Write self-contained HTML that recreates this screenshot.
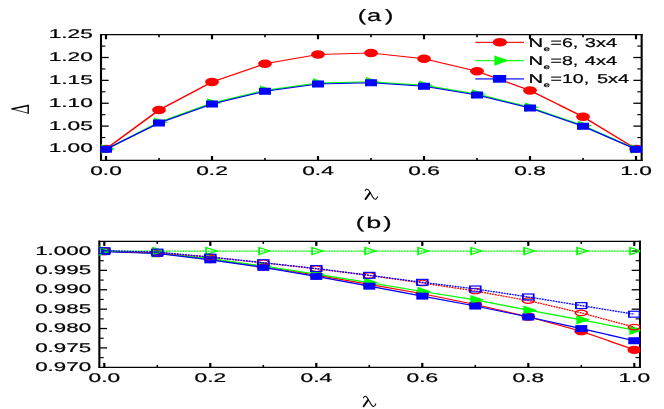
<!DOCTYPE html>
<html><head><meta charset="utf-8"><title>chart</title>
<style>html,body{margin:0;padding:0;background:#fff}svg{display:block;will-change:transform}text{text-rendering:geometricPrecision;font-family:"Liberation Sans", sans-serif;fill:#000;stroke:#000;stroke-width:0.22px}</style></head><body>
<svg width="664" height="409" viewBox="0 0 664 409">
<rect width="664" height="409" fill="#fff"/>
<g opacity="0.999">
<line x1="101.00" y1="34.00" x2="101.00" y2="161.00" stroke="#000" stroke-width="2.1" />
<line x1="100.00" y1="34.65" x2="642.65" y2="34.65" stroke="#000" stroke-width="1.3" />
<line x1="100.00" y1="160.40" x2="642.65" y2="160.40" stroke="#000" stroke-width="1.2" />
<line x1="106.00" y1="34.65" x2="106.00" y2="39.25" stroke="#000" stroke-width="2.2" />
<line x1="106.00" y1="160.40" x2="106.00" y2="156.00" stroke="#000" stroke-width="2.2" />
<line x1="159.00" y1="34.65" x2="159.00" y2="37.25" stroke="#000" stroke-width="1.6" />
<line x1="159.00" y1="160.40" x2="159.00" y2="158.00" stroke="#000" stroke-width="1.6" />
<line x1="212.00" y1="34.65" x2="212.00" y2="39.25" stroke="#000" stroke-width="2.2" />
<line x1="212.00" y1="160.40" x2="212.00" y2="156.00" stroke="#000" stroke-width="2.2" />
<line x1="265.00" y1="34.65" x2="265.00" y2="37.25" stroke="#000" stroke-width="1.6" />
<line x1="265.00" y1="160.40" x2="265.00" y2="158.00" stroke="#000" stroke-width="1.6" />
<line x1="318.00" y1="34.65" x2="318.00" y2="39.25" stroke="#000" stroke-width="2.2" />
<line x1="318.00" y1="160.40" x2="318.00" y2="156.00" stroke="#000" stroke-width="2.2" />
<line x1="371.00" y1="34.65" x2="371.00" y2="37.25" stroke="#000" stroke-width="1.6" />
<line x1="371.00" y1="160.40" x2="371.00" y2="158.00" stroke="#000" stroke-width="1.6" />
<line x1="424.00" y1="34.65" x2="424.00" y2="39.25" stroke="#000" stroke-width="2.2" />
<line x1="424.00" y1="160.40" x2="424.00" y2="156.00" stroke="#000" stroke-width="2.2" />
<line x1="477.00" y1="34.65" x2="477.00" y2="37.25" stroke="#000" stroke-width="1.6" />
<line x1="477.00" y1="160.40" x2="477.00" y2="158.00" stroke="#000" stroke-width="1.6" />
<line x1="530.00" y1="34.65" x2="530.00" y2="39.25" stroke="#000" stroke-width="2.2" />
<line x1="530.00" y1="160.40" x2="530.00" y2="156.00" stroke="#000" stroke-width="2.2" />
<line x1="583.00" y1="34.65" x2="583.00" y2="37.25" stroke="#000" stroke-width="1.6" />
<line x1="583.00" y1="160.40" x2="583.00" y2="158.00" stroke="#000" stroke-width="1.6" />
<line x1="636.00" y1="34.65" x2="636.00" y2="39.25" stroke="#000" stroke-width="2.2" />
<line x1="636.00" y1="160.40" x2="636.00" y2="156.00" stroke="#000" stroke-width="2.2" />
<line x1="101.00" y1="148.97" x2="108.70" y2="148.97" stroke="#000" stroke-width="1.3" />
<line x1="641.65" y1="148.97" x2="633.35" y2="148.97" stroke="#000" stroke-width="1.3" />
<line x1="101.00" y1="126.10" x2="108.70" y2="126.10" stroke="#000" stroke-width="1.3" />
<line x1="641.65" y1="126.10" x2="633.35" y2="126.10" stroke="#000" stroke-width="1.3" />
<line x1="101.00" y1="103.24" x2="108.70" y2="103.24" stroke="#000" stroke-width="1.3" />
<line x1="641.65" y1="103.24" x2="633.35" y2="103.24" stroke="#000" stroke-width="1.3" />
<line x1="101.00" y1="80.38" x2="108.70" y2="80.38" stroke="#000" stroke-width="1.3" />
<line x1="641.65" y1="80.38" x2="633.35" y2="80.38" stroke="#000" stroke-width="1.3" />
<line x1="101.00" y1="57.51" x2="108.70" y2="57.51" stroke="#000" stroke-width="1.3" />
<line x1="641.65" y1="57.51" x2="633.35" y2="57.51" stroke="#000" stroke-width="1.3" />
<line x1="101.00" y1="137.54" x2="105.40" y2="137.54" stroke="#000" stroke-width="1.15" />
<line x1="641.65" y1="137.54" x2="637.25" y2="137.54" stroke="#000" stroke-width="1.15" />
<line x1="101.00" y1="114.67" x2="105.40" y2="114.67" stroke="#000" stroke-width="1.15" />
<line x1="641.65" y1="114.67" x2="637.25" y2="114.67" stroke="#000" stroke-width="1.15" />
<line x1="101.00" y1="91.81" x2="105.40" y2="91.81" stroke="#000" stroke-width="1.15" />
<line x1="641.65" y1="91.81" x2="637.25" y2="91.81" stroke="#000" stroke-width="1.15" />
<line x1="101.00" y1="68.94" x2="105.40" y2="68.94" stroke="#000" stroke-width="1.15" />
<line x1="641.65" y1="68.94" x2="637.25" y2="68.94" stroke="#000" stroke-width="1.15" />
<line x1="101.00" y1="46.08" x2="105.40" y2="46.08" stroke="#000" stroke-width="1.15" />
<line x1="641.65" y1="46.08" x2="637.25" y2="46.08" stroke="#000" stroke-width="1.15" />
<line x1="641.65" y1="34.00" x2="641.65" y2="161.00" stroke="#000" stroke-width="2.1" />
<clipPath id="ca"><rect x="100.40" y="32.65" width="541.55" height="129.75"/></clipPath>
<g clip-path="url(#ca)"><g transform="scale(1.6,1)">
<polyline points="66.250,148.90 99.375,110.00 132.500,82.00 165.625,63.75 198.750,54.50 231.875,53.00 265.000,58.75 298.125,71.25 331.250,90.50 364.375,116.75 397.500,148.90" fill="none" stroke="#ff0000" stroke-width="1.2"/>
<ellipse cx="66.250" cy="148.90" rx="4.312" ry="4.15" fill="#ff0000"/>
<ellipse cx="99.375" cy="110.00" rx="4.312" ry="4.15" fill="#ff0000"/>
<ellipse cx="132.500" cy="82.00" rx="4.312" ry="4.15" fill="#ff0000"/>
<ellipse cx="165.625" cy="63.75" rx="4.312" ry="4.15" fill="#ff0000"/>
<ellipse cx="198.750" cy="54.50" rx="4.312" ry="4.15" fill="#ff0000"/>
<ellipse cx="231.875" cy="53.00" rx="4.312" ry="4.15" fill="#ff0000"/>
<ellipse cx="265.000" cy="58.75" rx="4.312" ry="4.15" fill="#ff0000"/>
<ellipse cx="298.125" cy="71.25" rx="4.312" ry="4.15" fill="#ff0000"/>
<ellipse cx="331.250" cy="90.50" rx="4.312" ry="4.15" fill="#ff0000"/>
<ellipse cx="364.375" cy="116.75" rx="4.312" ry="4.15" fill="#ff0000"/>
<ellipse cx="397.500" cy="148.90" rx="4.312" ry="4.15" fill="#ff0000"/>
<polyline points="66.250,149.10 99.375,122.30 132.500,103.10 165.625,90.30 198.750,83.00 231.875,81.80 265.000,85.30 298.125,94.10 331.250,107.20 364.375,125.60 397.500,149.10" fill="none" stroke="#00ff00" stroke-width="1.2"/>
<polygon points="63.125,144.35 71.937,149.10 63.125,153.85" fill="#00ff00"/>
<polygon points="96.250,117.55 105.062,122.30 96.250,127.05" fill="#00ff00"/>
<polygon points="129.375,98.35 138.188,103.10 129.375,107.85" fill="#00ff00"/>
<polygon points="162.500,85.55 171.312,90.30 162.500,95.05" fill="#00ff00"/>
<polygon points="195.625,78.25 204.438,83.00 195.625,87.75" fill="#00ff00"/>
<polygon points="228.750,77.05 237.562,81.80 228.750,86.55" fill="#00ff00"/>
<polygon points="261.875,80.55 270.688,85.30 261.875,90.05" fill="#00ff00"/>
<polygon points="295.000,89.35 303.812,94.10 295.000,98.85" fill="#00ff00"/>
<polygon points="328.125,102.45 336.938,107.20 328.125,111.95" fill="#00ff00"/>
<polygon points="361.250,120.85 370.062,125.60 361.250,130.35" fill="#00ff00"/>
<polygon points="394.375,144.35 403.188,149.10 394.375,153.85" fill="#00ff00"/>
<polyline points="66.250,149.20 99.375,123.00 132.500,104.00 165.625,91.25 198.750,84.00 231.875,82.75 265.000,86.25 298.125,95.00 331.250,108.00 364.375,126.25 397.500,149.20" fill="none" stroke="#0000ff" stroke-width="1.2"/>
<rect x="62.500" y="145.70" width="7.500" height="7" fill="#0000ff"/>
<rect x="95.625" y="119.50" width="7.500" height="7" fill="#0000ff"/>
<rect x="128.750" y="100.50" width="7.500" height="7" fill="#0000ff"/>
<rect x="161.875" y="87.75" width="7.500" height="7" fill="#0000ff"/>
<rect x="195.000" y="80.50" width="7.500" height="7" fill="#0000ff"/>
<rect x="228.125" y="79.25" width="7.500" height="7" fill="#0000ff"/>
<rect x="261.250" y="82.75" width="7.500" height="7" fill="#0000ff"/>
<rect x="294.375" y="91.50" width="7.500" height="7" fill="#0000ff"/>
<rect x="327.500" y="104.50" width="7.500" height="7" fill="#0000ff"/>
<rect x="360.625" y="122.75" width="7.500" height="7" fill="#0000ff"/>
<rect x="393.750" y="145.70" width="7.500" height="7" fill="#0000ff"/>
</g></g>
<text transform="translate(92.90,152.47) scale(1.79,1)" font-size="12.7" text-anchor="end" >1.00</text>
<text transform="translate(92.90,129.60) scale(1.79,1)" font-size="12.7" text-anchor="end" >1.05</text>
<text transform="translate(92.90,106.74) scale(1.79,1)" font-size="12.7" text-anchor="end" >1.10</text>
<text transform="translate(92.90,83.88) scale(1.79,1)" font-size="12.7" text-anchor="end" >1.15</text>
<text transform="translate(92.90,61.01) scale(1.79,1)" font-size="12.7" text-anchor="end" >1.20</text>
<text transform="translate(92.90,38.14) scale(1.79,1)" font-size="12.7" text-anchor="end" >1.25</text>
<text transform="translate(106.00,174.95) scale(1.79,1)" font-size="12.7" text-anchor="middle" >0.0</text>
<text transform="translate(212.00,174.95) scale(1.79,1)" font-size="12.7" text-anchor="middle" >0.2</text>
<text transform="translate(318.00,174.95) scale(1.79,1)" font-size="12.7" text-anchor="middle" >0.4</text>
<text transform="translate(424.00,174.95) scale(1.79,1)" font-size="12.7" text-anchor="middle" >0.6</text>
<text transform="translate(530.00,174.95) scale(1.79,1)" font-size="12.7" text-anchor="middle" >0.8</text>
<text transform="translate(636.00,174.95) scale(1.79,1)" font-size="12.7" text-anchor="middle" >1.0</text>
<line x1="99.35" y1="240.65" x2="99.35" y2="367.90" stroke="#000" stroke-width="2.1" />
<line x1="98.35" y1="241.30" x2="640.95" y2="241.30" stroke="#000" stroke-width="1.3" />
<line x1="98.35" y1="367.30" x2="640.95" y2="367.30" stroke="#000" stroke-width="1.2" />
<line x1="104.30" y1="241.30" x2="104.30" y2="245.90" stroke="#000" stroke-width="2.2" />
<line x1="104.30" y1="367.30" x2="104.30" y2="362.90" stroke="#000" stroke-width="2.2" />
<line x1="157.30" y1="241.30" x2="157.30" y2="243.90" stroke="#000" stroke-width="1.6" />
<line x1="157.30" y1="367.30" x2="157.30" y2="364.90" stroke="#000" stroke-width="1.6" />
<line x1="210.30" y1="241.30" x2="210.30" y2="245.90" stroke="#000" stroke-width="2.2" />
<line x1="210.30" y1="367.30" x2="210.30" y2="362.90" stroke="#000" stroke-width="2.2" />
<line x1="263.30" y1="241.30" x2="263.30" y2="243.90" stroke="#000" stroke-width="1.6" />
<line x1="263.30" y1="367.30" x2="263.30" y2="364.90" stroke="#000" stroke-width="1.6" />
<line x1="316.30" y1="241.30" x2="316.30" y2="245.90" stroke="#000" stroke-width="2.2" />
<line x1="316.30" y1="367.30" x2="316.30" y2="362.90" stroke="#000" stroke-width="2.2" />
<line x1="369.30" y1="241.30" x2="369.30" y2="243.90" stroke="#000" stroke-width="1.6" />
<line x1="369.30" y1="367.30" x2="369.30" y2="364.90" stroke="#000" stroke-width="1.6" />
<line x1="422.30" y1="241.30" x2="422.30" y2="245.90" stroke="#000" stroke-width="2.2" />
<line x1="422.30" y1="367.30" x2="422.30" y2="362.90" stroke="#000" stroke-width="2.2" />
<line x1="475.30" y1="241.30" x2="475.30" y2="243.90" stroke="#000" stroke-width="1.6" />
<line x1="475.30" y1="367.30" x2="475.30" y2="364.90" stroke="#000" stroke-width="1.6" />
<line x1="528.30" y1="241.30" x2="528.30" y2="245.90" stroke="#000" stroke-width="2.2" />
<line x1="528.30" y1="367.30" x2="528.30" y2="362.90" stroke="#000" stroke-width="2.2" />
<line x1="581.30" y1="241.30" x2="581.30" y2="243.90" stroke="#000" stroke-width="1.6" />
<line x1="581.30" y1="367.30" x2="581.30" y2="364.90" stroke="#000" stroke-width="1.6" />
<line x1="634.30" y1="241.30" x2="634.30" y2="245.90" stroke="#000" stroke-width="2.2" />
<line x1="634.30" y1="367.30" x2="634.30" y2="362.90" stroke="#000" stroke-width="2.2" />
<line x1="99.35" y1="347.93" x2="107.05" y2="347.93" stroke="#000" stroke-width="1.3" />
<line x1="639.95" y1="347.93" x2="631.65" y2="347.93" stroke="#000" stroke-width="1.3" />
<line x1="99.35" y1="328.54" x2="107.05" y2="328.54" stroke="#000" stroke-width="1.3" />
<line x1="639.95" y1="328.54" x2="631.65" y2="328.54" stroke="#000" stroke-width="1.3" />
<line x1="99.35" y1="309.16" x2="107.05" y2="309.16" stroke="#000" stroke-width="1.3" />
<line x1="639.95" y1="309.16" x2="631.65" y2="309.16" stroke="#000" stroke-width="1.3" />
<line x1="99.35" y1="289.77" x2="107.05" y2="289.77" stroke="#000" stroke-width="1.3" />
<line x1="639.95" y1="289.77" x2="631.65" y2="289.77" stroke="#000" stroke-width="1.3" />
<line x1="99.35" y1="270.38" x2="107.05" y2="270.38" stroke="#000" stroke-width="1.3" />
<line x1="639.95" y1="270.38" x2="631.65" y2="270.38" stroke="#000" stroke-width="1.3" />
<line x1="99.35" y1="251.00" x2="107.05" y2="251.00" stroke="#000" stroke-width="1.3" />
<line x1="639.95" y1="251.00" x2="631.65" y2="251.00" stroke="#000" stroke-width="1.3" />
<line x1="99.35" y1="357.62" x2="103.75" y2="357.62" stroke="#000" stroke-width="1.15" />
<line x1="639.95" y1="357.62" x2="635.55" y2="357.62" stroke="#000" stroke-width="1.15" />
<line x1="99.35" y1="338.23" x2="103.75" y2="338.23" stroke="#000" stroke-width="1.15" />
<line x1="639.95" y1="338.23" x2="635.55" y2="338.23" stroke="#000" stroke-width="1.15" />
<line x1="99.35" y1="318.85" x2="103.75" y2="318.85" stroke="#000" stroke-width="1.15" />
<line x1="639.95" y1="318.85" x2="635.55" y2="318.85" stroke="#000" stroke-width="1.15" />
<line x1="99.35" y1="299.46" x2="103.75" y2="299.46" stroke="#000" stroke-width="1.15" />
<line x1="639.95" y1="299.46" x2="635.55" y2="299.46" stroke="#000" stroke-width="1.15" />
<line x1="99.35" y1="280.08" x2="103.75" y2="280.08" stroke="#000" stroke-width="1.15" />
<line x1="639.95" y1="280.08" x2="635.55" y2="280.08" stroke="#000" stroke-width="1.15" />
<line x1="99.35" y1="260.69" x2="103.75" y2="260.69" stroke="#000" stroke-width="1.15" />
<line x1="639.95" y1="260.69" x2="635.55" y2="260.69" stroke="#000" stroke-width="1.15" />
<line x1="639.95" y1="240.65" x2="639.95" y2="367.90" stroke="#000" stroke-width="2.0" />
<clipPath id="cb"><rect x="98.75" y="239.30" width="541.50" height="130.00"/></clipPath>
<g clip-path="url(#cb)"><g transform="scale(1.6,1)">
<polyline points="65.188,251.20 98.312,253.20 131.438,259.00 164.562,266.50 197.688,275.20 230.812,284.45 263.938,293.70 297.062,304.45 330.187,316.70 363.312,331.20 396.437,349.80" fill="none" stroke="#ff0000" stroke-width="1.2"/>
<ellipse cx="65.188" cy="251.20" rx="4.312" ry="4.15" fill="#ff0000"/>
<ellipse cx="98.312" cy="253.20" rx="4.312" ry="4.15" fill="#ff0000"/>
<ellipse cx="131.438" cy="259.00" rx="4.312" ry="4.15" fill="#ff0000"/>
<ellipse cx="164.562" cy="266.50" rx="4.312" ry="4.15" fill="#ff0000"/>
<ellipse cx="197.688" cy="275.20" rx="4.312" ry="4.15" fill="#ff0000"/>
<ellipse cx="230.812" cy="284.45" rx="4.312" ry="4.15" fill="#ff0000"/>
<ellipse cx="263.938" cy="293.70" rx="4.312" ry="4.15" fill="#ff0000"/>
<ellipse cx="297.062" cy="304.45" rx="4.312" ry="4.15" fill="#ff0000"/>
<ellipse cx="330.187" cy="316.70" rx="4.312" ry="4.15" fill="#ff0000"/>
<ellipse cx="363.312" cy="331.20" rx="4.312" ry="4.15" fill="#ff0000"/>
<ellipse cx="396.437" cy="349.80" rx="4.312" ry="4.15" fill="#ff0000"/>
<polyline points="65.188,251.10 98.312,253.10 131.438,258.70 164.562,266.10 197.688,274.20 230.812,282.60 263.938,291.50 297.062,299.85 330.187,310.15 363.312,319.85 396.437,330.15" fill="none" stroke="#00ff00" stroke-width="1.2"/>
<polygon points="62.062,246.35 70.875,251.10 62.062,255.85" fill="#00ff00"/>
<polygon points="95.188,248.35 104.000,253.10 95.188,257.85" fill="#00ff00"/>
<polygon points="128.312,253.95 137.125,258.70 128.312,263.45" fill="#00ff00"/>
<polygon points="161.438,261.35 170.250,266.10 161.438,270.85" fill="#00ff00"/>
<polygon points="194.562,269.45 203.375,274.20 194.562,278.95" fill="#00ff00"/>
<polygon points="227.688,277.85 236.500,282.60 227.688,287.35" fill="#00ff00"/>
<polygon points="260.812,286.75 269.625,291.50 260.812,296.25" fill="#00ff00"/>
<polygon points="293.938,295.10 302.750,299.85 293.938,304.60" fill="#00ff00"/>
<polygon points="327.062,305.40 335.875,310.15 327.062,314.90" fill="#00ff00"/>
<polygon points="360.187,315.10 369.000,319.85 360.187,324.60" fill="#00ff00"/>
<polygon points="393.312,325.40 402.125,330.15 393.312,334.90" fill="#00ff00"/>
<polyline points="65.188,251.60 98.312,253.30 131.438,259.80 164.562,267.30 197.688,276.40 230.812,286.15 263.938,296.10 297.062,306.05 330.187,317.00 363.312,328.60 396.437,340.75" fill="none" stroke="#0000ff" stroke-width="1.2"/>
<rect x="61.437" y="248.10" width="7.500" height="7" fill="#0000ff"/>
<rect x="94.562" y="249.80" width="7.500" height="7" fill="#0000ff"/>
<rect x="127.688" y="256.30" width="7.500" height="7" fill="#0000ff"/>
<rect x="160.812" y="263.80" width="7.500" height="7" fill="#0000ff"/>
<rect x="193.938" y="272.90" width="7.500" height="7" fill="#0000ff"/>
<rect x="227.062" y="282.65" width="7.500" height="7" fill="#0000ff"/>
<rect x="260.188" y="292.60" width="7.500" height="7" fill="#0000ff"/>
<rect x="293.312" y="302.55" width="7.500" height="7" fill="#0000ff"/>
<rect x="326.437" y="313.50" width="7.500" height="7" fill="#0000ff"/>
<rect x="359.562" y="325.10" width="7.500" height="7" fill="#0000ff"/>
<rect x="392.687" y="337.25" width="7.500" height="7" fill="#0000ff"/>
<polyline points="65.188,251.00 98.312,252.60 131.438,257.10 164.562,262.80 197.688,268.80 230.812,275.40 263.938,283.00 297.062,291.00 330.187,300.60 363.312,312.90 396.437,327.10" fill="none" stroke="#ff0000" stroke-width="1.2" stroke-opacity="0.22"/>
<polyline points="65.188,251.00 98.312,252.60 131.438,257.10 164.562,262.80 197.688,268.80 230.812,275.40 263.938,283.00 297.062,291.00 330.187,300.60 363.312,312.90 396.437,327.10" fill="none" stroke="#ff0000" stroke-width="1.2" stroke-dasharray="1.06 0.69"/>
<ellipse cx="65.188" cy="251.00" rx="3.719" ry="2.75" fill="none" stroke="#ff0000" stroke-width="1.1"/>
<ellipse cx="98.312" cy="252.60" rx="3.719" ry="2.75" fill="none" stroke="#ff0000" stroke-width="1.1"/>
<ellipse cx="131.438" cy="257.10" rx="3.719" ry="2.75" fill="none" stroke="#ff0000" stroke-width="1.1"/>
<ellipse cx="164.562" cy="262.80" rx="3.719" ry="2.75" fill="none" stroke="#ff0000" stroke-width="1.1"/>
<ellipse cx="197.688" cy="268.80" rx="3.719" ry="2.75" fill="none" stroke="#ff0000" stroke-width="1.1"/>
<ellipse cx="230.812" cy="275.40" rx="3.719" ry="2.75" fill="none" stroke="#ff0000" stroke-width="1.1"/>
<ellipse cx="263.938" cy="283.00" rx="3.719" ry="2.75" fill="none" stroke="#ff0000" stroke-width="1.1"/>
<ellipse cx="297.062" cy="291.00" rx="3.719" ry="2.75" fill="none" stroke="#ff0000" stroke-width="1.1"/>
<ellipse cx="330.187" cy="300.60" rx="3.719" ry="2.75" fill="none" stroke="#ff0000" stroke-width="1.1"/>
<ellipse cx="363.312" cy="312.90" rx="3.719" ry="2.75" fill="none" stroke="#ff0000" stroke-width="1.1"/>
<ellipse cx="396.437" cy="327.10" rx="3.719" ry="2.75" fill="none" stroke="#ff0000" stroke-width="1.1"/>
<polyline points="65.188,251.10 98.312,251.10 131.438,251.10 164.562,251.10 197.688,251.10 230.812,251.10 263.938,251.10 297.062,251.10 330.187,251.10 363.312,251.10 396.437,251.10" fill="none" stroke="#00ff00" stroke-width="1.2" stroke-opacity="0.22"/>
<polyline points="65.188,251.10 98.312,251.10 131.438,251.10 164.562,251.10 197.688,251.10 230.812,251.10 263.938,251.10 297.062,251.10 330.187,251.10 363.312,251.10 396.437,251.10" fill="none" stroke="#00ff00" stroke-width="1.2" stroke-dasharray="1.06 0.69"/>
<polygon points="62.562,247.60 69.188,251.10 62.562,254.60" fill="none" stroke="#00ff00" stroke-width="1.15" stroke-linejoin="miter"/>
<polygon points="95.688,247.60 102.312,251.10 95.688,254.60" fill="none" stroke="#00ff00" stroke-width="1.15" stroke-linejoin="miter"/>
<polygon points="128.812,247.60 135.438,251.10 128.812,254.60" fill="none" stroke="#00ff00" stroke-width="1.15" stroke-linejoin="miter"/>
<polygon points="161.938,247.60 168.562,251.10 161.938,254.60" fill="none" stroke="#00ff00" stroke-width="1.15" stroke-linejoin="miter"/>
<polygon points="195.062,247.60 201.687,251.10 195.062,254.60" fill="none" stroke="#00ff00" stroke-width="1.15" stroke-linejoin="miter"/>
<polygon points="228.188,247.60 234.812,251.10 228.188,254.60" fill="none" stroke="#00ff00" stroke-width="1.15" stroke-linejoin="miter"/>
<polygon points="261.312,247.60 267.938,251.10 261.312,254.60" fill="none" stroke="#00ff00" stroke-width="1.15" stroke-linejoin="miter"/>
<polygon points="294.438,247.60 301.062,251.10 294.438,254.60" fill="none" stroke="#00ff00" stroke-width="1.15" stroke-linejoin="miter"/>
<polygon points="327.562,247.60 334.187,251.10 327.562,254.60" fill="none" stroke="#00ff00" stroke-width="1.15" stroke-linejoin="miter"/>
<polygon points="360.687,247.60 367.312,251.10 360.687,254.60" fill="none" stroke="#00ff00" stroke-width="1.15" stroke-linejoin="miter"/>
<polygon points="393.812,247.60 400.437,251.10 393.812,254.60" fill="none" stroke="#00ff00" stroke-width="1.15" stroke-linejoin="miter"/>
<polyline points="65.188,250.70 98.312,252.10 131.438,257.10 164.562,262.70 197.688,268.50 230.812,275.30 263.938,282.30 297.062,288.95 330.187,296.95 363.312,305.60 396.437,314.20" fill="none" stroke="#0000ff" stroke-width="1.2" stroke-opacity="0.22"/>
<polyline points="65.188,250.70 98.312,252.10 131.438,257.10 164.562,262.70 197.688,268.50 230.812,275.30 263.938,282.30 297.062,288.95 330.187,296.95 363.312,305.60 396.437,314.20" fill="none" stroke="#0000ff" stroke-width="1.2" stroke-dasharray="1.06 0.69"/>
<rect x="61.844" y="247.75" width="6.687" height="5.9" fill="none" stroke="#0000ff" stroke-width="1.15"/>
<rect x="94.969" y="249.15" width="6.687" height="5.9" fill="none" stroke="#0000ff" stroke-width="1.15"/>
<rect x="128.094" y="254.15" width="6.687" height="5.9" fill="none" stroke="#0000ff" stroke-width="1.15"/>
<rect x="161.219" y="259.75" width="6.687" height="5.9" fill="none" stroke="#0000ff" stroke-width="1.15"/>
<rect x="194.344" y="265.55" width="6.687" height="5.9" fill="none" stroke="#0000ff" stroke-width="1.15"/>
<rect x="227.469" y="272.35" width="6.687" height="5.9" fill="none" stroke="#0000ff" stroke-width="1.15"/>
<rect x="260.594" y="279.35" width="6.687" height="5.9" fill="none" stroke="#0000ff" stroke-width="1.15"/>
<rect x="293.719" y="286.00" width="6.687" height="5.9" fill="none" stroke="#0000ff" stroke-width="1.15"/>
<rect x="326.844" y="294.00" width="6.687" height="5.9" fill="none" stroke="#0000ff" stroke-width="1.15"/>
<rect x="359.969" y="302.65" width="6.687" height="5.9" fill="none" stroke="#0000ff" stroke-width="1.15"/>
<rect x="393.094" y="311.25" width="6.687" height="5.9" fill="none" stroke="#0000ff" stroke-width="1.15"/>
</g></g>
<text transform="translate(91.05,370.91) scale(1.76,1)" font-size="12.7" text-anchor="end" >0.970</text>
<text transform="translate(91.05,351.53) scale(1.76,1)" font-size="12.7" text-anchor="end" >0.975</text>
<text transform="translate(91.05,332.14) scale(1.76,1)" font-size="12.7" text-anchor="end" >0.980</text>
<text transform="translate(91.05,312.76) scale(1.76,1)" font-size="12.7" text-anchor="end" >0.985</text>
<text transform="translate(91.05,293.37) scale(1.76,1)" font-size="12.7" text-anchor="end" >0.990</text>
<text transform="translate(91.05,273.99) scale(1.76,1)" font-size="12.7" text-anchor="end" >0.995</text>
<text transform="translate(91.05,254.60) scale(1.76,1)" font-size="12.7" text-anchor="end" >1.000</text>
<text transform="translate(104.30,381.95) scale(1.79,1)" font-size="12.7" text-anchor="middle" >0.0</text>
<text transform="translate(210.30,381.95) scale(1.79,1)" font-size="12.7" text-anchor="middle" >0.2</text>
<text transform="translate(316.30,381.95) scale(1.79,1)" font-size="12.7" text-anchor="middle" >0.4</text>
<text transform="translate(422.30,381.95) scale(1.79,1)" font-size="12.7" text-anchor="middle" >0.6</text>
<text transform="translate(528.30,381.95) scale(1.79,1)" font-size="12.7" text-anchor="middle" >0.8</text>
<text transform="translate(634.30,381.95) scale(1.79,1)" font-size="12.7" text-anchor="middle" >1.0</text>
<text transform="translate(361.85,21.20) scale(1.52,1)" font-size="16.5" text-anchor="middle" >(</text>
<text transform="translate(374.10,21.35) scale(1.53,1)" font-size="16.6" text-anchor="middle" >a</text>
<text transform="translate(389.20,21.20) scale(1.52,1)" font-size="16.5" text-anchor="middle" >)</text>
<text transform="translate(360.05,227.85) scale(1.52,1)" font-size="16.5" text-anchor="middle" >(</text>
<text transform="translate(373.70,227.60) scale(1.72,1)" font-size="15.7" text-anchor="middle" >b</text>
<text transform="translate(387.40,227.85) scale(1.52,1)" font-size="16.5" text-anchor="middle" >)</text>
<g transform="translate(364.60,188.70)" fill="none" stroke="#000" stroke-linecap="round"><path d="M0.6,2.0 C1.0,0.6 2.4,0.1 3.6,0.9 C4.6,1.6 5.4,3.4 6.6,5.6 C7.8,7.8 8.6,9.4 9.6,10.2 C10.8,11.0 12.3,10.4 13.0,8.0" stroke-width="1.05"/><path d="M5.3,4.2 L0.9,10.4" stroke-width="1.9"/></g>
<g transform="translate(362.75,395.80)" fill="none" stroke="#000" stroke-linecap="round"><path d="M0.6,2.0 C1.0,0.6 2.4,0.1 3.6,0.9 C4.6,1.6 5.4,3.4 6.6,5.6 C7.8,7.8 8.6,9.4 9.6,10.2 C10.8,11.0 12.3,10.4 13.0,8.0" stroke-width="1.05"/><path d="M5.3,4.2 L0.9,10.4" stroke-width="1.9"/></g>
<g fill="none" stroke="#000" stroke-linejoin="miter"><path d="M11.6,108.9 L28.2,105.5" stroke-width="1.5"/><path d="M11.6,108.9 L28.2,113.2" stroke-width="0.8"/><path d="M28.2,104.7 L28.2,113.7" stroke-width="1.4"/></g>
<line x1="475.30" y1="42.30" x2="524.00" y2="42.30" stroke="#ff1c1c" stroke-width="1.2" />
<line x1="475.30" y1="60.60" x2="524.00" y2="60.60" stroke="#1cff1c" stroke-width="1.2" />
<line x1="475.30" y1="78.90" x2="524.00" y2="78.90" stroke="#5858ff" stroke-width="1.7" />
<ellipse cx="499.85" cy="42.30" rx="7.2" ry="4.3" fill="#ff0000"/>
<polygon points="494.4,55.40 509.0,60.60 494.4,65.80" fill="#00ff00"/>
<rect x="492.9" y="75.00" width="13.3" height="7.7" fill="#0000ff"/>
<text transform="translate(528.50,46.60) scale(1.61,1)" font-size="12.6" text-anchor="start" >N</text>
<text transform="translate(543.50,50.65) scale(1.75,1)" font-size="6.6" text-anchor="start" >e</text>
<text transform="translate(550.50,46.70) scale(1.52,1)" font-size="12.9" text-anchor="start" >=6,</text>
<text transform="translate(617.10,46.70) scale(1.55,1)" font-size="12.9" text-anchor="end" >3x4</text>
<text transform="translate(528.50,64.90) scale(1.61,1)" font-size="12.6" text-anchor="start" >N</text>
<text transform="translate(543.50,68.95) scale(1.75,1)" font-size="6.6" text-anchor="start" >e</text>
<text transform="translate(550.50,65.00) scale(1.52,1)" font-size="12.9" text-anchor="start" >=8,</text>
<text transform="translate(617.10,65.00) scale(1.55,1)" font-size="12.9" text-anchor="end" >4x4</text>
<text transform="translate(528.50,83.20) scale(1.61,1)" font-size="12.6" text-anchor="start" >N</text>
<text transform="translate(543.50,87.25) scale(1.75,1)" font-size="6.6" text-anchor="start" >e</text>
<text transform="translate(550.50,83.30) scale(1.52,1)" font-size="12.9" text-anchor="start" >=10,</text>
<text transform="translate(629.20,83.30) scale(1.55,1)" font-size="12.9" text-anchor="end" >5x4</text>
</g></svg></body></html>
